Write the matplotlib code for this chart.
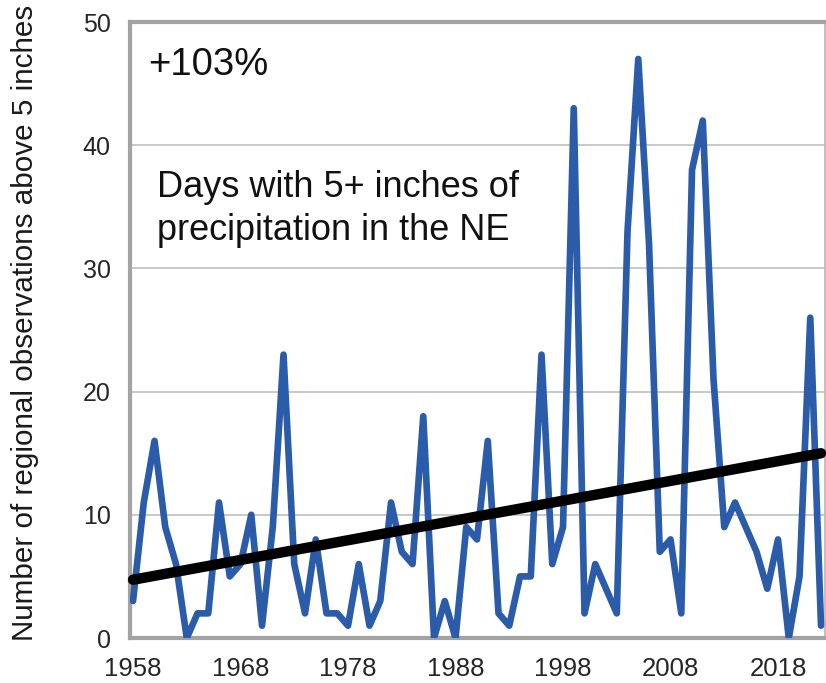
import numpy as np
import matplotlib
matplotlib.use("Agg")
import matplotlib.pyplot as plt

years = list(range(1958, 2023))
days = [3, 11, 16, 9, 6, 0, 2, 2, 11, 5,
        6, 10, 1, 9, 23, 6, 2, 8, 2, 2,
        1, 6, 1, 3, 11, 7, 6, 18, 0, 3,
        0, 9, 8, 16, 2, 1, 5, 5, 23, 6,
        9, 43, 2, 6, 4, 2, 33, 47, 32, 7,
        8, 2, 38, 42, 21, 9, 11, 9, 7, 4,
        8, 0, 5, 26, 1]
xticks = [1958, 1968, 1978, 1988, 1998, 2008, 2018]
yticks = [0, 10, 20, 30, 40, 50]
change_label = "+103%"
title_lines = ["Days with 5+ inches of", "precipitation in the NE"]
ylabel = "Number of regional observations above 5 inches"

W, H = 826, 683
fig = plt.figure(figsize=(W / 100, H / 100), dpi=100)
ax = fig.add_axes([130 / W, 1 - 638 / H, (825 - 130) / W, (638 - 22) / H])

x = np.array(years, dtype=float)
y = np.array(days, dtype=float)
coef = np.polyfit(x, y, 1)
trend = np.polyval(coef, x[[0, -1]])

ax.plot(x, y, color="#2a5caa", lw=4.8, solid_joinstyle="round", solid_capstyle="round", zorder=3)
ax.plot(x[[0, -1]], trend, color="black", lw=7.5, solid_capstyle="round", zorder=4, clip_on=False)

ax.set_xlim(1957.72, 2022.37)
ax.set_ylim(0, 50)
ax.set_xticks(xticks)
ax.set_yticks(yticks)
ax.grid(axis="y", color="#c4c4c4", lw=1.3, zorder=1)
ax.set_axisbelow(True)

tickfont = ["Liberation Sans", "DejaVu Sans"]
ax.tick_params(axis="both", length=0, colors="#262626")
ax.tick_params(axis="x", pad=14)
ax.tick_params(axis="y", pad=14)
for lab in ax.get_xticklabels():
    lab.set_fontfamily(tickfont)
    lab.set_fontsize(18.5)
for lab in ax.get_yticklabels():
    lab.set_fontfamily(tickfont)
    lab.set_fontsize(18)

for side in ["left", "bottom", "top"]:
    ax.spines[side].set_color("#a3a3a3")
    ax.spines[side].set_linewidth(3)
ax.spines["right"].set_color("#b5b5b5")
ax.spines["right"].set_linewidth(1.2)

font = ["Liberation Sans", "DejaVu Sans"]
fig.text(148 / W, 1 - 75 / H, change_label, fontsize=27.5, family=font,
         ha="left", va="baseline", color="#111111")
fig.text(157 / W, 1 - 197 / H, title_lines[0], fontsize=26, family=font,
         ha="left", va="baseline", color="#111111")
fig.text(157 / W, 1 - 240 / H, title_lines[1], fontsize=26, family=font,
         ha="left", va="baseline", color="#111111")
fig.text(25.5 / W, 1 - 323 / H, ylabel, fontsize=21.3, family=font, rotation=90,
         ha="center", va="center", color="#1a1a1a")

fig.savefig("out.png", dpi=100)
